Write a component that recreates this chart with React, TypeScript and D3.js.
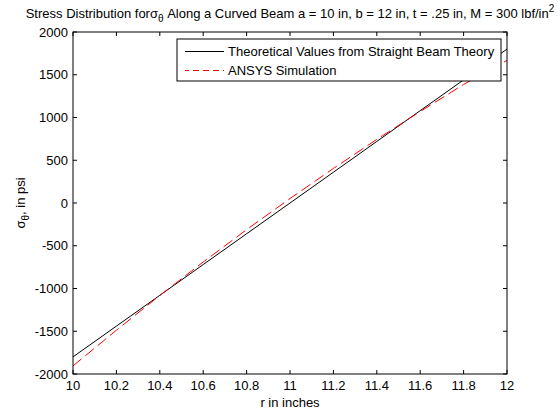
import * as d3 from "d3";

// radius samples (in) and stress readings (psi)
const radius = [10, 10.2, 10.4, 10.6, 10.8, 11, 11.2, 11.4, 11.6, 11.8, 12];
const theory = [-1800, -1440, -1080, -720, -360, 0, 360, 720, 1080, 1440, 1800];
const ansys = [-1905, -1488, -1082, -690, -312, 52, 404, 744, 1070, 1386, 1668];

const xTicks = [10, 10.2, 10.4, 10.6, 10.8, 11, 11.2, 11.4, 11.6, 11.8, 12];
const yTicks = [-2000, -1500, -1000, -500, 0, 500, 1000, 1500, 2000];

const legendLabels = ["Theoretical Values from Straight Beam Theory", "ANSYS Simulation"];

export default function App() {
  const width = 560;
  const height = 420;
  const margin = { top: 32, right: 53, bottom: 46, left: 73 };
  const font = "'Liberation Sans', Arial, Helvetica, sans-serif";

  const x = d3
    .scaleLinear()
    .domain([10, 12])
    .range([margin.left, width - margin.right]);
  const y = d3
    .scaleLinear()
    .domain([-2000, 2000])
    .range([height - margin.bottom, margin.top]);

  const line = d3
    .line<number>()
    .x((_, i) => x(radius[i]))
    .y((d) => y(d));

  const x0 = margin.left;
  const x1 = width - margin.right;
  const y0 = height - margin.bottom;
  const y1 = margin.top;
  const tick = 4;

  // legend box
  const lg = { left: 177, top: 39, right: 501, bottom: 81 };

  return (
    <svg
      width={width}
      height={height}
      style={{ position: "absolute", left: 0, top: 0, background: "white" }}
      fontFamily={font}
      fontSize={13}
    >
      <defs>
        <clipPath id="plot">
          <rect x={x0} y={y1} width={x1 - x0} height={y0 - y1} />
        </clipPath>
      </defs>

      {/* data lines */}
      <g clipPath="url(#plot)">
        <path d={line(theory) ?? ""} fill="none" stroke="black" strokeWidth={1} />
        <path
          d={line(ansys) ?? ""}
          fill="none"
          stroke="#ff0000"
          strokeWidth={1}
          strokeDasharray="11,5"
        />
      </g>

      {/* box */}
      <rect x={x0} y={y1} width={x1 - x0} height={y0 - y1} fill="none" stroke="black" />

      {/* x ticks */}
      {xTicks.map((t) => (
        <g key={"x" + t}>
          <line x1={x(t)} x2={x(t)} y1={y0} y2={y0 - tick} stroke="black" />
          <line x1={x(t)} x2={x(t)} y1={y1} y2={y1 + tick} stroke="black" />
          <text x={x(t)} y={390} textAnchor="middle">
            {t}
          </text>
        </g>
      ))}

      {/* y ticks */}
      {yTicks.map((t) => (
        <g key={"y" + t}>
          <line x1={x0} x2={x0 + tick} y1={y(t)} y2={y(t)} stroke="black" />
          <line x1={x1} x2={x1 - tick} y1={y(t)} y2={y(t)} stroke="black" />
          <text x={68} y={y(t)} dy="0.36em" textAnchor="end">
            {t}
          </text>
        </g>
      ))}

      {/* title */}
      <text x={(x0 + x1) / 2} y={18} textAnchor="middle">
        Stress Distribution for
        <tspan>σ</tspan>
        <tspan fontSize={10} dy={4}>θ</tspan>
        <tspan dy={-4}> Along a Curved Beam a = 10 in, b = 12 in, t = .25 in, M = 300 lbf/in</tspan>
        <tspan fontSize={10} dy={-6}>2</tspan>
      </text>

      {/* axis labels */}
      <text x={(x0 + x1) / 2} y={407} textAnchor="middle">
        r in inches
      </text>
      <text transform={`translate(25, ${(y0 + y1) / 2}) rotate(-90)`} textAnchor="middle">
        σ<tspan fontSize={10} dy={4}>θ</tspan>
        <tspan dy={-4}>, in psi</tspan>
      </text>

      {/* legend */}
      <rect
        x={lg.left}
        y={lg.top}
        width={lg.right - lg.left}
        height={lg.bottom - lg.top}
        fill="white"
        stroke="black"
      />
      {legendLabels.map((label, i) => {
        const ly = 51.5 + i * 19;
        return (
          <g key={label}>
            <line
              x1={185}
              x2={224}
              y1={ly}
              y2={ly}
              stroke={i === 0 ? "black" : "#ff0000"}
              strokeDasharray={i === 0 ? undefined : "6,4"}
              strokeDashoffset={i === 0 ? undefined : 2}
            />
            <text x={228} y={ly} dy="0.36em">
              {label}
            </text>
          </g>
        );
      })}
    </svg>
  );
}
